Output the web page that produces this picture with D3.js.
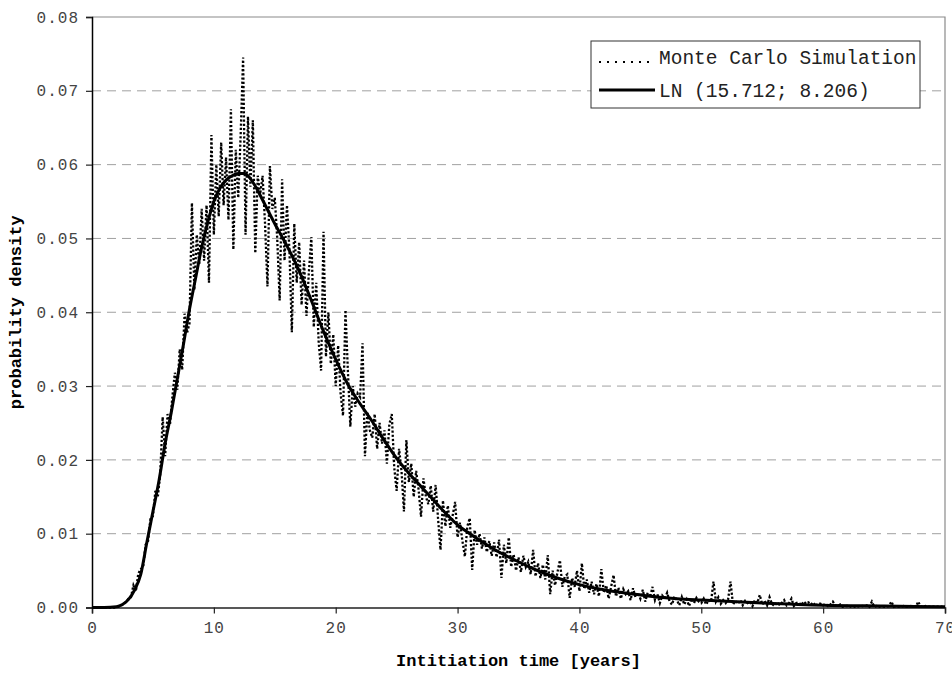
<!DOCTYPE html>
<html>
<head>
<meta charset="utf-8">
<script src="https://cdn.jsdelivr.net/npm/d3@7"></script>
<style>
  body { margin: 0; background: #fff; }
  svg text { font-family: "Liberation Mono", "Courier New", monospace; }
  .tick-label { font-size: 16px; fill: #444; letter-spacing: 1px; }
  .axis-title { font-size: 17px; font-weight: bold; fill: #000; }
  .legend-text { font-size: 19.5px; fill: #222; }
</style>
</head>
<body>
<div id="chart"></div>
<script>
// axis ticks
const xTicks = [0, 10, 20, 30, 40, 50, 60, 70];
const yTicks = [0, 0.01, 0.02, 0.03, 0.04, 0.05, 0.06, 0.07, 0.08];

// fitted lognormal curve
const lnX = [0, 1, 2, 2.5, 3, 3.5, 4, 4.5, 5, 5.5, 6, 6.5, 7, 7.5, 8, 8.5, 9, 9.5, 10, 10.5,
  11, 11.5, 12, 12.5, 13, 13.5, 14, 15, 16, 17, 18, 19, 20, 21, 22, 23, 24, 25, 26, 27,
  28, 29, 30, 31, 32, 33, 34, 35, 36, 38, 40, 42, 45, 48, 50, 55, 60, 65, 70];
const lnY = [0, 0, 0.0001, 0.0004, 0.0011, 0.0024, 0.0045, 0.0088, 0.0130, 0.0172, 0.0222, 0.0264,
  0.0310, 0.0356, 0.0404, 0.0446, 0.0488, 0.0522, 0.0550, 0.0568, 0.0579, 0.0585, 0.0588, 0.0588,
  0.0581, 0.0568, 0.0552, 0.0520, 0.0490, 0.0456, 0.0416, 0.0374, 0.0336, 0.0302, 0.0276, 0.0252,
  0.0226, 0.0202, 0.0182, 0.0164, 0.0146, 0.0128, 0.0112, 0.0100, 0.0089, 0.0079, 0.0070, 0.0062,
  0.0054, 0.0041, 0.0031, 0.0024, 0.0017, 0.0012, 0.0010, 0.0006, 0.0003, 0.0002, 0.0001];

// Monte Carlo histogram, one value every 0.2 years
const mcStep = 0.2;
const mcValues = [
  0, 0, 0, 0, 0,
  0, 0, 0, 0, 0,
  0, 0.0001, 0.0003, 0.0004, 0.0008,
  0.0012, 0.0014, 0.0030, 0.0022, 0.0046,
  0.0052, 0.0055, 0.0085, 0.0090, 0.0120,
  0.0124, 0.0158, 0.0150, 0.0181, 0.0258,
  0.0205, 0.0262, 0.0248, 0.0286, 0.0318,
  0.0295, 0.0350, 0.0322, 0.0398, 0.0372,
  0.0385, 0.0548, 0.0430, 0.0505, 0.0465,
  0.0540, 0.0470, 0.0545, 0.0440, 0.0640,
  0.0505, 0.0600, 0.0530, 0.0630, 0.0545,
  0.0610, 0.0525, 0.0675, 0.0485, 0.0620,
  0.0555, 0.0640, 0.0745, 0.0505, 0.0665,
  0.0570, 0.0660, 0.0480, 0.0585, 0.0560,
  0.0585, 0.0520, 0.0435, 0.0598, 0.0540,
  0.0555, 0.0500, 0.0416, 0.0580, 0.0470,
  0.0545, 0.0485, 0.0373, 0.0520, 0.0440,
  0.0495, 0.0410, 0.0470, 0.0395, 0.0455,
  0.0502, 0.0380, 0.0440, 0.0360, 0.0321,
  0.0509, 0.0340, 0.0400, 0.0330, 0.0370,
  0.0300, 0.0355, 0.0290, 0.0260, 0.0403,
  0.0320, 0.0245, 0.0300, 0.0272, 0.0290,
  0.0285, 0.0358, 0.0205, 0.0265, 0.0240,
  0.0230, 0.0262, 0.0215, 0.0250, 0.0222,
  0.0240, 0.0195, 0.0248, 0.0262, 0.0190,
  0.0158, 0.0215, 0.0185, 0.0130, 0.0227,
  0.0170, 0.0195, 0.0150, 0.0185, 0.0160,
  0.0123, 0.0175, 0.0150, 0.0140, 0.0165,
  0.0130, 0.0166, 0.0120, 0.0078, 0.0145,
  0.0110, 0.0138, 0.0108, 0.0125, 0.0143,
  0.0095, 0.0115, 0.0090, 0.0069, 0.0110,
  0.0121, 0.0051, 0.0105, 0.0085, 0.0100,
  0.0080, 0.0095, 0.0075, 0.0090, 0.0070,
  0.0088, 0.0068, 0.0092, 0.0040, 0.0085,
  0.0060, 0.0095, 0.0055, 0.0072, 0.0050,
  0.0068, 0.0048, 0.0070, 0.0055, 0.0062,
  0.0045, 0.0078, 0.0042, 0.0060, 0.0040,
  0.0058, 0.0038, 0.0071, 0.0018, 0.0050,
  0.0030, 0.0048, 0.0064, 0.0028, 0.0042,
  0.0045, 0.0013, 0.0040, 0.0028, 0.0050,
  0.0022, 0.0060, 0.0025, 0.0038, 0.0020,
  0.0035, 0.0018, 0.0032, 0.0015, 0.0052,
  0.0020, 0.0030, 0.0012, 0.0028, 0.0044,
  0.0015, 0.0027, 0.0012, 0.0025, 0.0018,
  0.0022, 0.0010, 0.0026, 0.0014, 0.0020,
  0.0012, 0.0024, 0.0008, 0.0020, 0.0014,
  0.0028, 0.0010, 0.0018, 0.0006, 0.0016,
  0.0012, 0.0020, 0.0008, 0.0004, 0.0015,
  0.0010, 0.0003, 0.0014, 0.0004, 0.0011,
  0.0002, 0.0012, 0.0006, 0.0013, 0.0008,
  0.0006, 0.0012, 0.0004, 0.0010, 0.0008,
  0.0035, 0.0008, 0.0014, 0.0005, 0.0010,
  0.0006, 0.0011, 0.0035, 0.0004, 0.0009,
  0.0005, 0.0010, 0.0003, 0.0009, 0.0006,
  0.0008, 0.0002, 0.0010, 0.0006, 0.0017,
  0.0004, 0.0009, 0.0003, 0.0014, 0.0005,
  0.0002, 0.0007, 0.0004, 0.0006, 0.0010,
  0.0003, 0.0006, 0.0012, 0.0002, 0.0006,
  0.0007, 0.0003, 0.0008, 0.0005, 0.0007,
  0.0004, 0.0007, 0.0002, 0.0006, 0.0005,
  0.0003, 0.0005, 0.0002, 0.0004, 0.0008,
  0.0003, 0.0002, 0.0004, 0.0001, 0.0002,
  0.0002, 0.0001, 0.0003, 0.0001, 0.0002,
  0.0001, 0.0002, 0.0001, 0.0003, 0.0001,
  0.0008, 0.0001, 0.0002, 0.0001, 0.0002,
  0.0001, 0.0001, 0.0002, 0.0008, 0.0001,
  0.0002, 0.0001, 0.0001, 0.0002, 0.0001,
  0.0001, 0.0002, 0.0001, 0.0001, 0.0008,
  0.0001, 0.0001, 0.0002, 0.0001, 0.0001,
  0.0001, 0.0001, 0.0001, 0.0001, 0.0001
];

const seriesNames = ["Monte Carlo Simulation", "LN (15.712; 8.206)"];

const width = 952, height = 673;
const margin = { top: 17, right: 7, bottom: 65.5, left: 92 };

const svg = d3.select("#chart").append("svg")
  .attr("width", width)
  .attr("height", height);

const x = d3.scaleLinear().domain([0, 70]).range([margin.left, width - margin.right]);
const y = d3.scaleLinear().domain([0, 0.08]).range([height - margin.bottom, margin.top]);

// dashed grid
svg.append("g")
  .selectAll("line")
  .data(yTicks.slice(1, -1))
  .join("line")
  .attr("x1", x(0)).attr("x2", x(70))
  .attr("y1", d => y(d)).attr("y2", d => y(d))
  .attr("stroke", "#a0a0a0")
  .attr("stroke-width", 1)
  .attr("stroke-dasharray", "9,6");

// top and right frame
svg.append("path")
  .attr("d", `M${x(0)},${y(0.08)}H${x(70)}V${y(0)}`)
  .attr("fill", "none")
  .attr("stroke", "#8a8a8a")
  .attr("stroke-width", 1.2);

// axes
const xAxis = svg.append("g")
  .attr("transform", `translate(0,${y(0)})`)
  .call(d3.axisBottom(x).tickValues(xTicks).tickSize(6).tickPadding(8).tickFormat(d3.format("d")));
const yAxis = svg.append("g")
  .attr("transform", `translate(${x(0)},0)`)
  .call(d3.axisLeft(y).tickValues(yTicks).tickSize(6).tickPadding(7).tickFormat(d3.format(".2f")));

[xAxis, yAxis].forEach(g => {
  g.select(".domain").attr("stroke", "#222").attr("stroke-width", 1.5);
  g.selectAll(".tick line").attr("stroke", "#222").attr("stroke-width", 1.2);
  g.selectAll(".tick text").attr("class", "tick-label").attr("font-family", null).attr("font-size", null);
});
yAxis.select(".domain").attr("stroke", "#000");

// axis titles
svg.append("text")
  .attr("class", "axis-title")
  .attr("x", (x(0) + x(70)) / 2)
  .attr("y", 666)
  .attr("text-anchor", "middle")
  .text("Intitiation time [years]");

svg.append("text")
  .attr("class", "axis-title")
  .attr("transform", `translate(21,${(y(0) + y(0.08)) / 2}) rotate(-90)`)
  .attr("text-anchor", "middle")
  .text("probability density");

// series
const mcData = mcValues.map((v, i) => [i * mcStep, v]);
const lnData = lnX.map((v, i) => [v, lnY[i]]);

svg.append("path")
  .datum(mcData)
  .attr("d", d3.line().x(d => x(d[0])).y(d => y(d[1])))
  .attr("fill", "none")
  .attr("stroke", "#000")
  .attr("stroke-width", 2.3)
  .attr("stroke-dasharray", "2.2,2");

svg.append("path")
  .datum(lnData)
  .attr("d", d3.line().curve(d3.curveMonotoneX).x(d => x(d[0])).y(d => y(d[1])))
  .attr("fill", "none")
  .attr("stroke", "#000")
  .attr("stroke-width", 3);

// legend
const legend = svg.append("g").attr("transform", "translate(591,41)");
legend.append("rect")
  .attr("x", 0).attr("y", 0)
  .attr("width", 329).attr("height", 67)
  .attr("fill", "#fff")
  .attr("stroke", "#333")
  .attr("stroke-width", 1);

const rows = legend.selectAll("g.row")
  .data(seriesNames)
  .join("g")
  .attr("class", "row")
  .attr("transform", (d, i) => `translate(0,${i === 0 ? 21 : 49})`);

rows.append("line")
  .attr("x1", 8).attr("x2", 64)
  .attr("y1", 0).attr("y2", 0)
  .attr("stroke", "#000")
  .attr("stroke-width", (d, i) => i === 0 ? 2 : 3)
  .attr("stroke-dasharray", (d, i) => i === 0 ? "2,6" : null);

rows.append("text")
  .attr("class", "legend-text")
  .attr("x", 68)
  .attr("y", (d, i) => i === 0 ? 1.5 : 6.5)
  .text(d => d);
</script>
</body>
</html>
